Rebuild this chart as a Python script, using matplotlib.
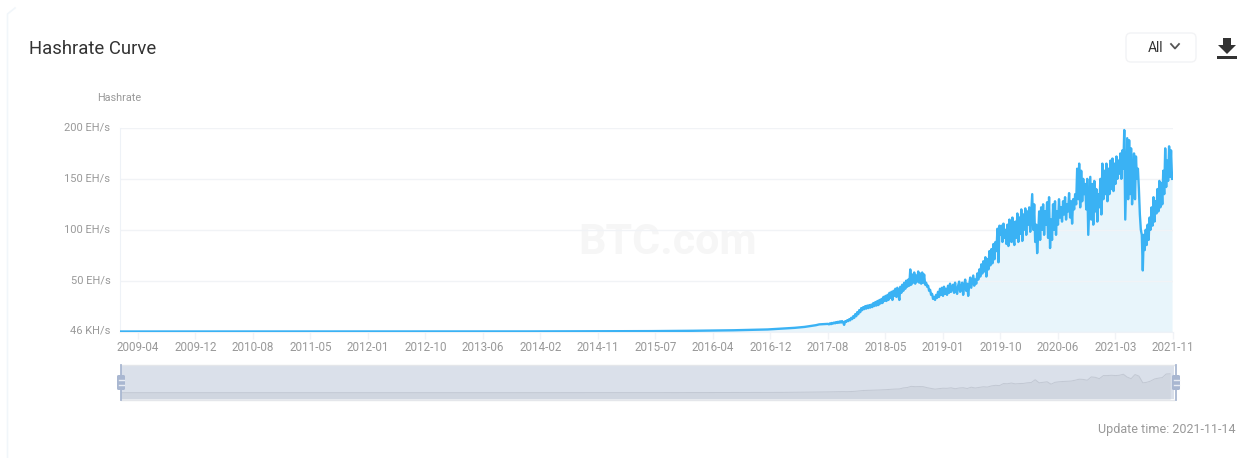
import numpy as np
import pandas as pd
import matplotlib
matplotlib.use('Agg')
import matplotlib.pyplot as plt
from matplotlib.patches import FancyBboxPatch, Polygon, Rectangle
from matplotlib.transforms import ScaledTranslation

plt.rcParams['font.family'] = ['Roboto', 'DejaVu Sans']

W, H = 1253, 458

tick_labels = ['2009-04', '2009-12', '2010-08', '2011-05', '2012-01', '2012-10', '2013-06',
               '2014-02', '2014-11', '2015-07', '2016-04', '2016-12', '2017-08', '2018-05',
               '2019-01', '2019-10', '2020-06', '2021-03', '2021-11']
y_ticks = [0, 50, 100, 150, 200]
y_labels = ['46 KH/s', '50 EH/s', '100 EH/s', '150 EH/s', '200 EH/s']

# the axis is category based, so the labels sit at equal steps
tick_dates = pd.date_range('2009-03-24', '2021-11-14', periods=len(tick_labels))

early_dates = ['2009-01-03', '2010-01-01', '2011-01-01', '2012-01-01', '2013-01-01', '2014-01-01',
               '2014-07-01', '2015-01-01', '2015-07-01', '2016-01-01', '2016-07-01', '2016-12-01',
               '2017-02-01', '2017-04-01', '2017-05-15', '2017-06-15', '2017-07-05', '2017-07-20']
early_values = [0.0, 0.0, 0.0, 0.01, 0.02, 0.08, 0.15, 0.3, 0.38, 0.7, 1.2, 2.0,
                2.8, 3.6, 4.5, 5.5, 6.2, 7.0]

# one list per stretch between two axis labels, 2017-08 onward
span_2018 = [7.5, 7.0, 8, 7.2, 8.4, 7.8, 8.8, 8, 9.2, 8.4, 9.6, 8.6, 10, 8.8, 10.2, 9, 6.5, 10, 9.4,
             11, 10.2, 12, 11, 13.4, 12.2, 15, 13.4, 17, 15, 19, 17, 21, 19, 23, 21, 24, 22, 25,
             22.5, 25.5, 23, 26, 23.5, 26.5, 24, 28, 25, 29, 25.5, 30, 26, 31, 27.5, 32, 28, 34, 30]
span_2019 = [35, 30, 36, 31, 38, 33, 39, 31, 40, 35, 42, 34, 43, 36, 31, 44, 38, 46, 40, 48, 42, 50,
             44, 51, 45, 61, 46, 56, 48, 58, 47, 55, 49, 59, 48, 57, 47, 58, 48, 56, 46, 48, 44, 45,
             40, 41, 36, 37, 32, 34, 31, 36, 33, 39, 34, 42, 36, 43]
span_2019b = [35, 44, 37, 42, 36, 45, 38, 47, 39, 43, 46, 38, 48, 40, 37, 45, 49, 39, 44, 48, 36, 45,
              51, 40, 47, 35, 46, 53, 43, 49, 55, 45, 51, 47, 57, 51, 61, 54, 66, 57, 69, 59, 73, 54,
              71, 61, 79, 65, 81, 67, 86, 71, 88, 79, 101, 68, 104]
span_2020 = [95, 104, 88, 106, 92, 100, 86, 105, 84, 110, 93, 88, 112, 90, 85,
             108, 92, 116, 88, 112, 96, 120, 89, 115, 100, 121, 95, 118, 105, 122,
             98, 117, 135, 100, 125, 88, 105, 77, 95, 118,
             90, 122, 100, 125, 95, 118, 105, 127, 92, 132,
             82, 110, 90, 125, 100, 128, 95, 118]
span_2021 = [105, 130, 112, 122, 108, 128, 115, 132, 110, 125, 118, 136, 112, 128, 106, 130, 120,
             135, 125, 160, 130, 165, 122, 158, 128, 150, 135,
             145, 120, 150, 95, 125, 152, 110, 145, 105, 148,
             118, 140, 108, 135, 122, 150, 115, 165, 130, 158, 135, 165,
             128, 160, 135, 168, 140, 170, 138, 165]
span_2021b = [145, 172, 150, 168, 155, 175, 150, 178, 160, 198,
              110, 150, 190, 130, 188, 135, 180, 125,
              155, 175, 130, 172, 150, 160, 140, 115, 100, 95,
              60, 95, 80, 100, 85, 105, 90, 112,
              100, 122, 104, 132, 108, 128, 116, 140,
              118, 148, 122, 146, 125, 158, 135,
              180, 142, 168, 148, 182, 152, 178, 150]

spans = [span_2018, span_2019, span_2019b, span_2020, span_2021, span_2021b]
dates = [pd.to_datetime(early_dates)]
values = [np.array(early_values, dtype=float)]
for k, span in enumerate(spans):
    stretch = pd.date_range(tick_dates[12 + k], tick_dates[13 + k], periods=len(span) + 1)[:-1]
    dates.append(stretch)
    values.append(np.array(span, dtype=float))
all_dates = dates[0].append(dates[1:])
all_values = np.concatenate(values)

fig = plt.figure(figsize=(W / 100, H / 100), dpi=100, facecolor='white')


def px_axes(x0, y0, x1, y1, **kw):
    return fig.add_axes([x0 / W, 1 - y1 / H, (x1 - x0) / W, (y1 - y0) / H], **kw)


# page furniture drawn in pixel coordinates
page = px_axes(0, 0, W, H)
page.set_xlim(0, W)
page.set_ylim(H, 0)
page.axis('off')
page.plot([7.5, 7.5, 15], [H, 14, 8], color='#f1f6fa', lw=1.2)
page.text(29, 48.5, 'Hashrate Curve', fontsize=13.3, color='#333333', va='center', ha='left')
page.text(97, 98, 'Hashrate', fontsize=7.8, color='#999999', va='center', ha='left')
page.text(1236, 430, 'Update time: 2021-11-14', fontsize=9, color='#999999', va='center', ha='right')
page.add_patch(FancyBboxPatch((1128, 35), 66, 25, boxstyle='round,pad=2,rounding_size=5',
                              fc='white', ec='#f2f3f5', lw=1))
page.text(1155, 47.5, 'All', fontsize=10, color='#333333', va='center', ha='center')
page.plot([1171, 1175, 1179], [44, 48.5, 44], color='#555555', lw=1.3)
page.add_patch(Polygon([(1223, 38), (1231, 38), (1231, 45), (1236, 45), (1227, 54), (1218, 45), (1223, 45)],
                       fc='#333333', ec='none'))
page.add_patch(Rectangle((1217, 56), 20, 2.5, fc='#333333', ec='none'))
page.text(668, 242, 'BTC.com', fontsize=31, fontweight='bold', color='#f6f6f6', va='center', ha='center')

ax = px_axes(120, 128, 1173, 331.5)
ax.patch.set_alpha(0)
ax.fill_between(all_dates, all_values, 0, color='#e8f5fb', lw=0, zorder=1)
ax.plot(all_dates, all_values, color='#3ab2f4', lw=1.7, zorder=3, solid_joinstyle='round')
ax.set_xlim(pd.Timestamp('2009-01-03'), pd.Timestamp('2021-11-14'))
ax.set_ylim(0, 200)
ax.set_yticks(y_ticks)
ax.set_yticklabels(y_labels)
ax.set_xticks(tick_dates)
ax.set_xticklabels(tick_labels)
ax.grid(axis='y', color='#f1f3f6', lw=1, zorder=0)
ax.tick_params(axis='y', length=0, pad=7, labelsize=8.0, labelcolor='#999999')
ax.tick_params(axis='x', length=5, width=1, color='#f1f3f6', pad=2, labelsize=8.4, labelcolor='#999999')
# y labels sit slightly above their grid lines
lift = ScaledTranslation(0, 1.5 / 100, fig.dpi_scale_trans)
for lab in ax.get_yticklabels():
    lab.set_transform(lab.get_transform() + lift)
for side in ['top', 'right']:
    ax.spines[side].set_visible(False)
ax.spines['left'].set_color('#eef2f7')
ax.spines['bottom'].set_color('#eef2f7')

# overview strip under the chart
nav = px_axes(121, 365, 1174, 399)
nav.set_facecolor('#dae0ea')
nav.plot(all_dates[::4], all_values[::4], color='#c2c8d3', lw=0.7)
nav.fill_between(all_dates[::4], all_values[::4], -61, color='#d0d6e0', lw=0)
nav.set_xlim(pd.Timestamp('2009-01-03'), pd.Timestamp('2021-11-14'))
nav.set_ylim(-61, 267)
nav.set_xticks([])
nav.set_yticks([])
for spine in nav.spines.values():
    spine.set_visible(False)

handles = px_axes(0, 0, W, H)
handles.set_xlim(0, W)
handles.set_ylim(H, 0)
handles.axis('off')
handles.plot([121, 1174], [364.5, 364.5], color='#e4e6ea', lw=1)
handles.plot([121, 1174], [399.5, 399.5], color='#e4e6ea', lw=1)
for cx in [121, 1176]:
    handles.plot([cx, cx], [365, 400], color='#a9b7d1', lw=1.3)
    handles.add_patch(FancyBboxPatch((cx - 3.5, 375.5), 7, 14, boxstyle='round,pad=0.5,rounding_size=1.5',
                                     fc='#a9b7d1', ec='none'))
    for yy in [380, 385]:
        handles.plot([cx - 2.5, cx + 2.5], [yy, yy], color='#e8ecf3', lw=1)

fig.savefig('out.png', dpi=100)
